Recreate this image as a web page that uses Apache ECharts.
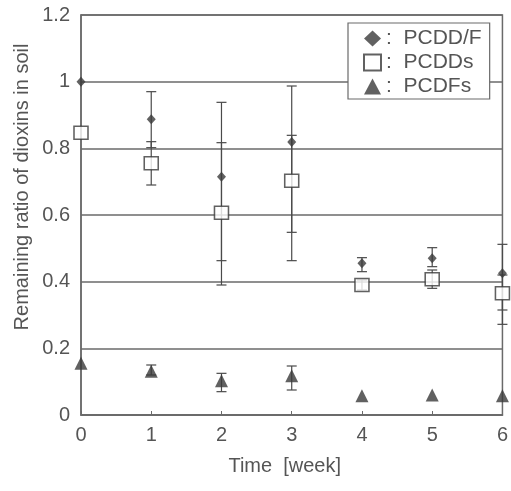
<!DOCTYPE html>
<html>
<head>
<meta charset="utf-8">
<title>Remaining ratio of dioxins in soil</title>
<script src="https://cdn.jsdelivr.net/npm/echarts@6/dist/echarts.min.js"></script>
<style>
  html, body { margin: 0; padding: 0; background: #fff; }
  #chart { width: 511px; height: 491px; }
</style>
</head>
<body>
<div id="chart"></div>
<script>
// time in weeks
const weeks = [0, 1, 2, 3, 4, 5, 6];

// PCDD/F (total)
const pcddf = [1.0, 0.887, 0.715, 0.819, 0.455, 0.47, 0.425];
const pcddfLow = [null, 0.802, 0.463, 0.548, 0.43, 0.445, 0.315];
const pcddfHigh = [null, 0.97, 0.938, 0.987, 0.472, 0.502, 0.512];

// PCDDs
const pcdds = [0.847, 0.755, 0.607, 0.703, 0.39, 0.407, 0.365];
const pcddsLow = [null, 0.69, 0.39, 0.463, 0.375, 0.38, 0.272];
const pcddsHigh = [null, 0.82, 0.817, 0.839, 0.405, 0.435, 0.42];

// PCDFs
const pcdfs = [0.155, 0.131, 0.103, 0.118, 0.058, 0.06, 0.058];
const pcdfsLow = [null, 0.12, 0.07, 0.075, null, null, null];
const pcdfsHigh = [null, 0.15, 0.125, 0.147, null, null, null];

const yTicks = [0, 0.2, 0.4, 0.6, 0.8, 1, 1.2];

const FONT = 'Liberation Sans, Arial, sans-serif';
const INK = '#3a3a3a';
const LINE = '#6a6a6a';

const pts = (ys) => weeks.map((w, i) => [w, ys[i]]);
const bars = (lo, hi) => weeks
  .map((w, i) => [w, lo[i], hi[i]])
  .filter(d => d[1] != null);

// vertical error bar with short caps
const renderErr = (params, api) => {
  const top = api.coord([api.value(0), api.value(2)]);
  const bot = api.coord([api.value(0), api.value(1)]);
  const hw = 5;
  const style = { stroke: '#4a4a4a', lineWidth: 1.2 };
  return {
    type: 'group',
    children: [
      { type: 'line', shape: { x1: top[0], y1: top[1], x2: bot[0], y2: bot[1] }, style },
      { type: 'line', shape: { x1: top[0] - hw, y1: top[1], x2: top[0] + hw, y2: top[1] }, style },
      { type: 'line', shape: { x1: bot[0] - hw, y1: bot[1], x2: bot[0] + hw, y2: bot[1] }, style }
    ]
  };
};

const errSeries = (name, lo, hi) => ({
  name,
  type: 'custom',
  renderItem: renderErr,
  data: bars(lo, hi),
  clip: false,
  silent: true,
  z: 1
});

const chart = echarts.init(document.getElementById('chart'));

chart.setOption({
  animation: false,
  backgroundColor: '#fff',
  textStyle: { fontFamily: FONT },
  grid: {
    left: 81, right: 4, top: 15, bottom: 76,
    show: true, borderColor: LINE, borderWidth: 1.5
  },
  xAxis: {
    type: 'value',
    min: 0, max: 6, interval: 1,
    name: 'Time  [week]',
    nameLocation: 'middle',
    nameGap: 41,
    nameTextStyle: { fontSize: 20, color: '#555', fontFamily: FONT, padding: [0, 14, 0, 0] },
    axisLine: { show: true, lineStyle: { color: LINE, width: 1.5 } },
    axisTick: { show: true, inside: true, length: 4, lineStyle: { color: LINE } },
    axisLabel: { fontSize: 20, color: '#555', margin: 10, fontFamily: FONT },
    splitLine: { show: false }
  },
  yAxis: {
    type: 'value',
    min: 0, max: 1.2, interval: 0.2,
    axisLine: { show: true, lineStyle: { color: LINE, width: 1.5 } },
    axisTick: { show: false },
    axisLabel: {
      fontSize: 20, color: '#555', margin: 11, fontFamily: FONT,
      formatter: v => String(yTicks.find(t => Math.abs(t - v) < 1e-6) ?? v)
    },
    splitLine: { show: true, lineStyle: { color: LINE, width: 1.5 } }
  },
  legend: {
    orient: 'vertical',
    left: 348, top: 23,
    padding: [4, 8, 1, 15],
    itemWidth: 17, itemHeight: 16, itemGap: 1,
    backgroundColor: '#fff',
    borderColor: LINE, borderWidth: 1.2,
    selectedMode: false,
    textStyle: { fontSize: 21, color: '#555', lineHeight: 23, fontFamily: FONT },
    formatter: n => ':  ' + n,
    data: [
      { name: 'PCDD/F', icon: 'diamond' },
      { name: 'PCDDs', icon: 'rect' },
      { name: 'PCDFs', icon: 'triangle' }
    ]
  },
  graphic: [{
    type: 'text',
    x: 22, y: 187,
    rotation: Math.PI / 2,
    style: {
      text: 'Remaining ratio of dioxins in soil',
      fontSize: 20, fontFamily: FONT, fill: '#555',
      align: 'center', verticalAlign: 'middle'
    }
  }],
  series: [
    errSeries('errPCDDF', pcddfLow, pcddfHigh),
    errSeries('errPCDDs', pcddsLow, pcddsHigh),
    errSeries('errPCDFs', pcdfsLow, pcdfsHigh),
    {
      name: 'PCDDs',
      type: 'scatter',
      symbol: 'rect',
      symbolSize: [14, 13],
      itemStyle: { color: '#fff', borderColor: INK, borderWidth: 1.5 },
      data: pts(pcdds),
      clip: false,
      z: 3
    },
    {
      name: 'PCDD/F',
      type: 'scatter',
      symbol: 'diamond',
      symbolSize: [9, 10],
      itemStyle: { color: INK },
      data: pts(pcddf),
      clip: false,
      z: 4
    },
    {
      name: 'PCDFs',
      type: 'scatter',
      symbol: 'triangle',
      symbolSize: [13, 13],
      itemStyle: { color: INK },
      data: pts(pcdfs),
      clip: false,
      z: 4
    }
  ]
});
</script>
</body>
</html>
